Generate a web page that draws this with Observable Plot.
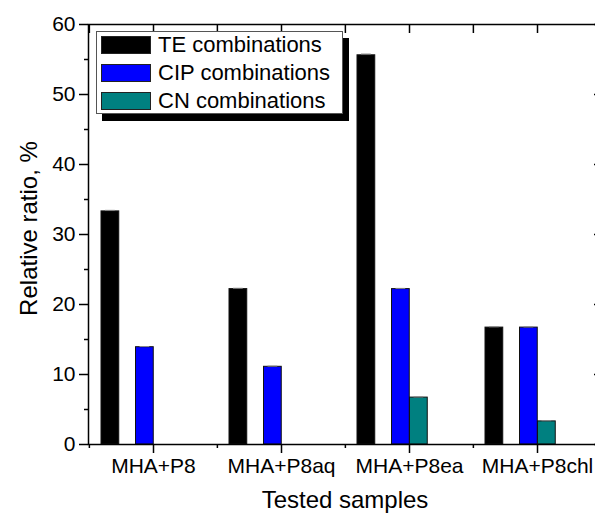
<!DOCTYPE html>
<html>
<head>
<meta charset="utf-8">
<script src="https://cdn.jsdelivr.net/npm/d3@7"></script>
<script src="https://cdn.jsdelivr.net/npm/@observablehq/plot@0.6"></script>
<style>
  html, body { margin: 0; padding: 0; background: #fff; overflow: hidden; }
  #wrap { position: relative; width: 595px; height: 513px; font-family: "Liberation Sans", Arial, sans-serif; color: #000; }
  #wrap svg { overflow: hidden; }
  #legend { position: absolute; left: 96px; top: 31px; width: 247px; height: 83px; box-sizing: border-box;
            border: 1px solid #555; background: #fff; box-shadow: 6px 7px 0 #000; }
  .sw { position: absolute; left: 4px; width: 50px; height: 18px; box-sizing: border-box; border: 1px solid #222; }
  .lt { position: absolute; left: 61px; font-size: 22px; line-height: 22px; white-space: nowrap; }
</style>
</head>
<body>
<div id="wrap"></div>
<script>
// ---- data ----
const samples = ["MHA+P8", "MHA+P8aq", "MHA+P8ea", "MHA+P8chl"];
const seriesNames = ["TE combinations", "CIP combinations", "CN combinations"];
const teValues = [33.3, 22.2, 55.6, 16.7];
const cipValues = [13.9, 11.1, 22.2, 16.7];
const cnValues = [0, 0, 6.7, 3.3];
const teErr = [0.15, 0.12, 0.18, 0.12];
const cipErr = [0.1, 0.1, 0.1, 0.1];
const cnErr = [0, 0, 0.1, 0.1];
const yTicks = [0, 10, 20, 30, 40, 50, 60];
const yMinorTicks = [5, 15, 25, 35, 45, 55];
const seriesColors = ["#000000", "#0000ff", "#008080"];

// ---- layout ----
const W = 595, H = 513;
const mL = 88, mR = -6, mT = 24, mB = 69;
const bw = (W - mR - mL) / samples.length;
const barW = 18;
const slotLeft = [12, 46.5, 64.5];
const capW = 10;

const allValues = [teValues, cipValues, cnValues];
const allErr = [teErr, cipErr, cnErr];
const rowsFor = (k) => samples.map((s, i) => ({sample: s, series: seriesNames[k], value: allValues[k][i], err: allErr[k][i]}));

const barMarks = [];
seriesNames.forEach((name, k) => {
  const rows = rowsFor(k);
  barMarks.push(Plot.barY(rows, {
    x: "sample", y: "value",
    fill: seriesColors[k], stroke: "#111", strokeWidth: 1,
    insetLeft: slotLeft[k], insetRight: bw - slotLeft[k] - barW
  }));
  const capInset = slotLeft[k] + (barW - capW) / 2;
  barMarks.push(Plot.tickY(rows.filter(d => d.value > 0), {
    x: "sample", y: d => d.value + d.err,
    stroke: "#888", strokeWidth: 1,
    insetLeft: capInset, insetRight: bw - capInset - capW
  }));
});

const plot = Plot.plot({
  width: W, height: H,
  marginLeft: mL, marginRight: mR, marginTop: mT, marginBottom: mB,
  style: {fontFamily: "'Liberation Sans', Arial, sans-serif", fontSize: "21px", color: "#000", background: "#fff"},
  x: {type: "band", domain: samples, padding: 0},
  y: {domain: [0, 60], range: [H - mB, mT]},
  marks: [
    ...barMarks,
    Plot.frame({stroke: "#000", strokeWidth: 1.5}),
    // left axis
    Plot.axisY({ticks: yTicks, tickSize: 9, tickPadding: 4, strokeWidth: 1.5, label: null}),
    Plot.axisY({ticks: yMinorTicks, tickSize: 4, text: null, strokeWidth: 1.5, label: null}),
    // right axis (inward)
    Plot.axisY({anchor: "right", ticks: yTicks, tickSize: -8, text: null, strokeWidth: 1.5, label: null}),
    Plot.axisY({anchor: "right", ticks: yMinorTicks, tickSize: -4, text: null, strokeWidth: 1.5, label: null}),
    // bottom axis
    Plot.axisX({ticks: samples, tickSize: 9, tickPadding: 5, strokeWidth: 1.5, label: null}),
    Plot.axisX({ticks: samples, tickSize: 4, text: null, dx: -bw / 2, strokeWidth: 1.5, label: null}),
    Plot.axisX({ticks: samples.slice(-1), tickSize: 4, text: null, dx: bw / 2, strokeWidth: 1.5, label: null}),
    // top axis (inward)
    Plot.axisX({anchor: "top", ticks: samples, tickSize: -8, text: null, strokeWidth: 1.5, label: null}),
    Plot.axisX({anchor: "top", ticks: samples, tickSize: -8, text: null, dx: -bw / 2, strokeWidth: 1.5, label: null}),
    // axis titles
    Plot.text(["Relative ratio, %"], {text: d => d, frameAnchor: "left", dx: -52, dy: -6, rotate: -90,
      fontSize: 24, lineAnchor: "bottom", textAnchor: "middle", fill: "#000"}),
    Plot.text(["Tested samples"], {text: d => d, frameAnchor: "bottom", dy: 63,
      fontSize: 24, lineAnchor: "bottom", textAnchor: "middle", fill: "#000"})
  ]
});

const wrap = document.getElementById("wrap");
wrap.appendChild(plot);

// legend (HTML overlay inside the frame)
const legend = document.createElement("div");
legend.id = "legend";
const swTops = [4, 32, 60];
seriesNames.forEach((name, k) => {
  const sw = document.createElement("div");
  sw.className = "sw";
  sw.style.top = swTops[k] + "px";
  sw.style.background = seriesColors[k];
  legend.appendChild(sw);
  const t = document.createElement("div");
  t.className = "lt";
  t.style.top = (swTops[k] - 2) + "px";
  t.textContent = name;
  legend.appendChild(t);
});
wrap.appendChild(legend);
</script>
</body>
</html>
